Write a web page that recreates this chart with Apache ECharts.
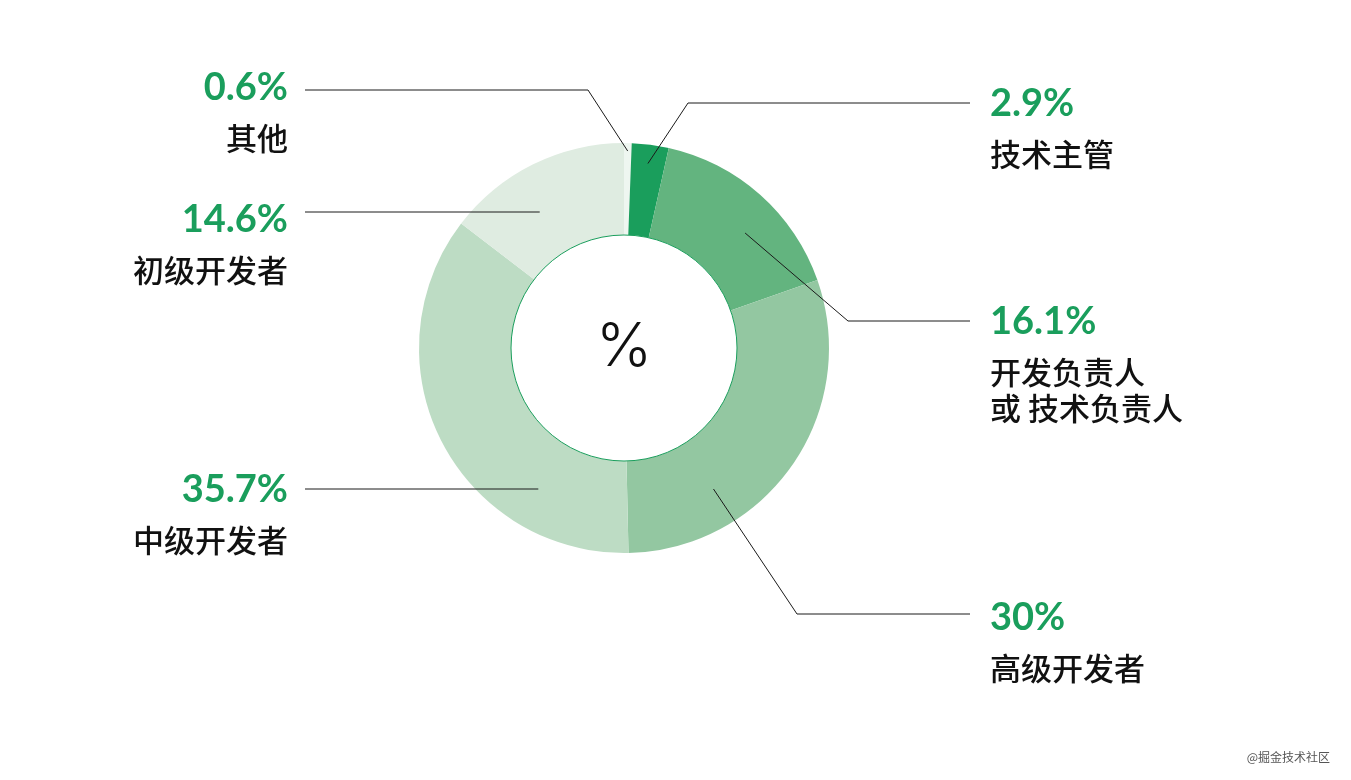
<!DOCTYPE html>
<html>
<head>
<meta charset="utf-8">
<title>开发者职位分布</title>
<script src="https://cdn.jsdelivr.net/npm/echarts@6/dist/echarts.min.js"></script>
<style>
  html, body { margin: 0; padding: 0; background: #fff; }
  #chart { width: 1351px; height: 780px; }
</style>
</head>
<body>
<div id="chart"></div>
<script>
// 职位（从12点方向顺时针排列）
const roles = ['其他', '技术主管', '开发负责人\n或 技术负责人', '高级开发者', '中级开发者', '初级开发者'];
const shares = [0.6, 2.9, 16.1, 30, 35.7, 14.6];
const sliceColors = ['#eef6f0', '#1a9e5c', '#63b47f', '#93c7a1', '#bddcc4', '#dfece1'];

const CX = 624, CY = 348, R_IN = 113, R_OUT = 205;
const GREEN = '#1a9e5c';

// 标注：文字在哪一侧、百分比文字中线、引线高度、拐点x、引线起点半径/高度
const labelSpots = [
  { side: 'left',  textY: 88,  lineY: 90,  elbowX: 588,  r: 197 },
  { side: 'right', textY: 104, lineY: 103, elbowX: 688,  r: 186 },
  { side: 'right', textY: 322, lineY: 321, elbowX: 848,  r: 167, startY: 233 },
  { side: 'right', textY: 618, lineY: 614, elbowX: 797,  r: 167, startY: 489 },
  { side: 'left',  textY: 490, lineY: 489, elbowX: null, r: 165, startY: 489 },
  { side: 'left',  textY: 220, lineY: 212, elbowX: null, r: 160, startY: 212 }
];

// 扇区中线方向（库给的引线，拿不到就按数据算）
function midDir(params) {
  const pts = params.labelLinePoints;
  if (pts && pts.length > 1) {
    const vx = pts[1][0] - pts[0][0], vy = pts[1][1] - pts[0][1];
    const len = Math.sqrt(vx * vx + vy * vy);
    if (len > 0) return [vx / len, vy / len];
  }
  const total = shares.reduce((a, b) => a + b, 0);
  let before = 0;
  for (let i = 0; i < params.dataIndex; i++) before += shares[i];
  const a = (90 - 360 * (before + shares[params.dataIndex] / 2) / total) * Math.PI / 180;
  return [Math.cos(a), -Math.sin(a)];
}

function layoutLabel(params) {
  const spot = labelSpots[params.dataIndex];
  const left = spot.side === 'left';
  const endX = left ? 305 : 970;
  let start;
  if (spot.startY != null) {
    // 在圆环中部按给定高度取起点
    const dy = spot.startY - CY;
    const dx = Math.sqrt(Math.max(spot.r * spot.r - dy * dy, 0));
    start = [CX + (left ? -dx : dx), spot.startY];
  } else {
    const d = midDir(params);
    start = [CX + spot.r * d[0], CY + spot.r * d[1]];
  }
  const line = spot.elbowX == null
    ? [start, [endX, spot.lineY]]
    : [start, [spot.elbowX, spot.lineY], [endX, spot.lineY]];
  return {
    x: left ? 288 : 990,
    y: spot.textY - 32,
    align: left ? 'right' : 'left',
    verticalAlign: 'top',
    labelLinePoints: line
  };
}

const sliceData = roles.map((name, i) => ({ name: name, value: shares[i] }));

const chart = echarts.init(document.getElementById('chart'));

chart.setOption({
  backgroundColor: '#fff',
  animation: false,
  title: {
    text: '@掘金技术社区',
    right: 16,
    bottom: 12,
    textStyle: { fontSize: 12, fontWeight: 'normal', color: '#555', fontFamily: 'Noto Sans CJK SC' }
  },
  series: [
    {
      // 圆环
      type: 'pie',
      center: [CX, CY],
      radius: [R_IN, R_OUT],
      startAngle: 90,
      clockwise: true,
      silent: true,
      data: sliceData.map((d, i) => ({ name: d.name, value: d.value, itemStyle: { color: sliceColors[i] } })),
      label: { show: false },
      labelLine: { show: false }
    },
    {
      // 中间白色圆盘
      type: 'pie',
      center: [CX, CY],
      radius: [0, R_IN],
      silent: true,
      data: [{ value: 1, name: '%' }],
      itemStyle: { color: '#fff', borderColor: GREEN, borderWidth: 1 },
      label: {
        show: true,
        position: 'center',
        formatter: '%',
        fontFamily: 'Inter',
        fontWeight: 300,
        fontSize: 60,
        color: '#111'
      },
      labelLine: { show: false }
    },
    {
      // 标注层：透明扇区，只画文字和引线（压在圆环上面）
      type: 'pie',
      z: 5,
      center: [CX, CY],
      radius: [R_IN, R_OUT],
      startAngle: 90,
      clockwise: true,
      avoidLabelOverlap: false,
      silent: true,
      data: sliceData,
      itemStyle: { color: 'rgba(0,0,0,0)' },
      label: {
        show: true,
        position: 'outside',
        formatter: function (p) {
          const names = p.name.split('\n').map(s => '{n|' + s + '}').join('\n');
          return '{p|' + p.value + '%}\n' + names;
        },
        rich: {
          p: {
            fontFamily: 'Lato',
            fontWeight: 'bold',
            fontSize: 38,
            lineHeight: 64,
            color: GREEN
          },
          n: {
            fontFamily: 'Noto Sans CJK SC',
            fontWeight: 500,
            fontSize: 31,
            lineHeight: 36,
            color: '#111'
          }
        }
      },
      labelLine: {
        show: true,
        length: 20,
        length2: 20,
        lineStyle: { color: '#1a1a1a', width: 1 }
      },
      labelLayout: layoutLabel
    }
  ]
});
</script>
</body>
</html>
